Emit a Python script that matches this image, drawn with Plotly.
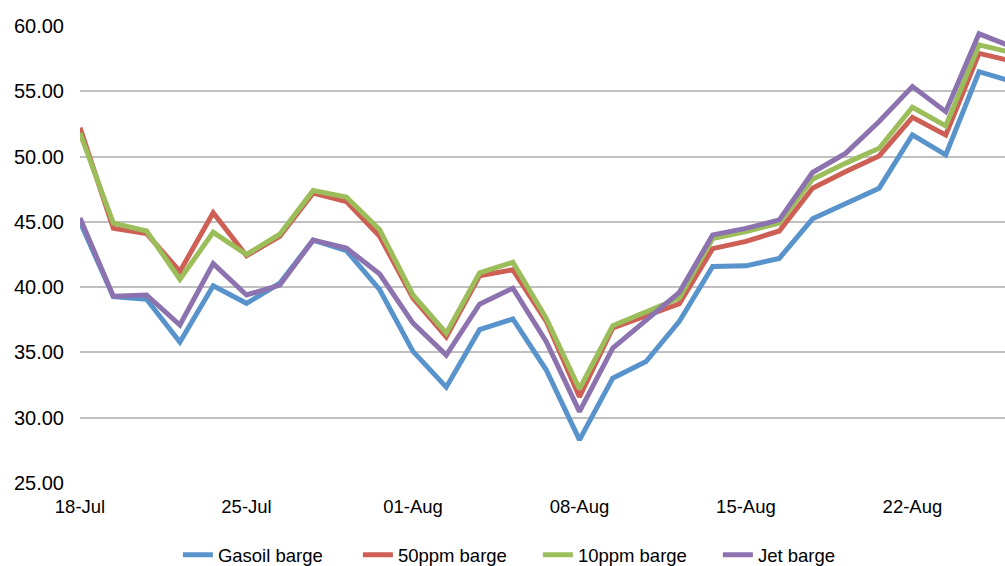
import plotly.graph_objects as go

dates = ["18-Jul", "19-Jul", "20-Jul", "21-Jul", "22-Jul",
         "25-Jul", "26-Jul", "27-Jul", "28-Jul", "29-Jul",
         "01-Aug", "02-Aug", "03-Aug", "04-Aug", "05-Aug",
         "08-Aug", "09-Aug", "10-Aug", "11-Aug", "12-Aug",
         "15-Aug", "16-Aug", "17-Aug", "18-Aug", "19-Aug",
         "22-Aug", "23-Aug", "24-Aug", "25-Aug"]

gasoil = [45.0, 39.27, 39.07, 35.8, 40.1, 38.76, 40.3, 43.6, 42.8, 39.8,
          35.08, 32.34, 36.74, 37.56, 33.67, 28.3, 33.03, 34.3, 37.38, 41.58,
          41.63, 42.2, 45.23, 46.43, 47.58, 51.66, 50.13, 56.5, 55.75]
ppm50 = [52.2, 44.5, 44.1, 41.2, 45.7, 42.4, 43.9, 47.2, 46.56, 43.9,
         39.16, 36.2, 40.87, 41.33, 37.4, 31.6, 36.87, 37.76, 38.73, 42.95,
         43.5, 44.3, 47.58, 48.85, 50.05, 53.0, 51.66, 57.9, 57.3]
ppm10 = [51.8, 44.9, 44.3, 40.6, 44.2, 42.5, 44.05, 47.4, 46.9, 44.4,
         39.4, 36.48, 41.09, 41.9, 37.63, 32.2, 37.05, 38.15, 39.16, 43.72,
         44.26, 44.9, 48.27, 49.5, 50.64, 53.78, 52.35, 58.55, 57.95]
jet = [45.3, 39.3, 39.4, 37.1, 41.8, 39.4, 40.15, 43.6, 43.0, 41.0,
       37.25, 34.8, 38.7, 39.92, 35.84, 30.47, 35.33, 37.5, 39.6, 44.0,
       44.5, 45.15, 48.78, 50.26, 52.68, 55.36, 53.44, 59.4, 58.4]

series_names = ["Gasoil barge", "50ppm barge", "10ppm barge", "Jet barge"]
series_values = [gasoil, ppm50, ppm10, jet]
colors = ["#5893CC", "#CD5F55", "#9BBE5A", "#8C73AF"]

tick_labels = ["18-Jul", "25-Jul", "01-Aug", "08-Aug", "15-Aug", "22-Aug"]
y_ticks = [25, 30, 35, 40, 45, 50, 55, 60]

fig = go.Figure()
for name, vals, col in zip(series_names, series_values, colors):
    fig.add_trace(go.Scatter(x=dates, y=vals, mode="lines", name=name,
                             line=dict(color=col, width=5)))

FONT = "Liberation Sans, Arial, sans-serif"
fig.update_layout(
    width=1005, height=566,
    margin=dict(l=80, r=0, t=26, b=83, autoexpand=False),
    paper_bgcolor="white", plot_bgcolor="white",
    font=dict(family=FONT, color="black"),
    showlegend=True,
    legend=dict(orientation="h", x=0.495, xanchor="center", y=-0.158,
                yanchor="middle", font=dict(size=18.5, family=FONT),
                entrywidth=135, entrywidthmode="pixels",
                bgcolor="rgba(0,0,0,0)"),
    xaxis=dict(type="category", range=[0, 27.78], tickmode="array",
               tickvals=tick_labels, ticktext=tick_labels,
               showgrid=False, showline=False, zeroline=False, ticks="",
               tickfont=dict(size=18.5, family=FONT), ticklabelstandoff=10),
    yaxis=dict(range=[25, 60], tickmode="array", tickvals=y_ticks,
               tickformat=".2f", showgrid=True, gridcolor="#C0C0C0",
               gridwidth=1.5, zeroline=False, showline=False, ticks="",
               tickfont=dict(size=20, family=FONT), ticklabelstandoff=15),
)

fig.write_html("out.html")
